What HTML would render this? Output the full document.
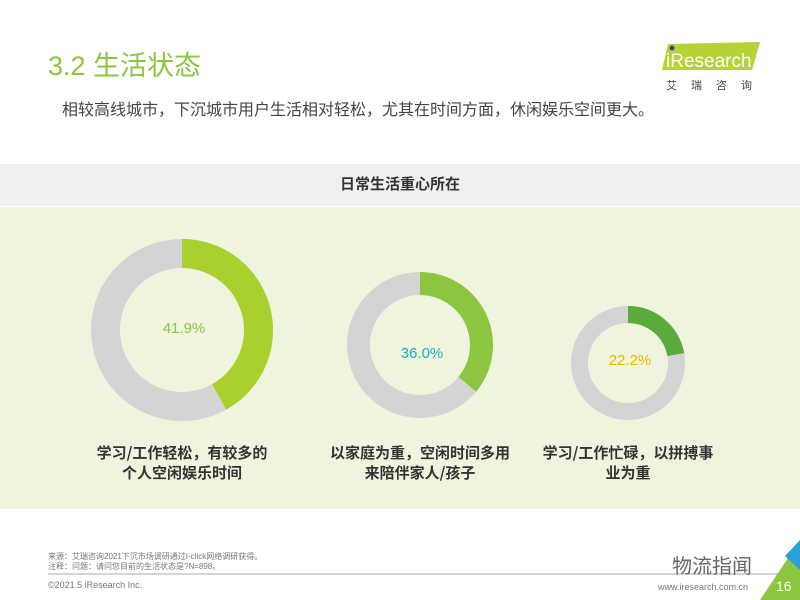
<!DOCTYPE html>
<html><head><meta charset="utf-8"><style>
body{margin:0;width:800px;height:600px;position:relative;background:#fff;font-family:"Liberation Sans","Noto Sans CJK SC",sans-serif;overflow:hidden}
.a{position:absolute;white-space:nowrap}
</style></head><body>
<div class="a" style="left:48px;top:44px;font-size:27px;color:#8cc63f">3.2 生活状态</div>
<div class="a" style="left:62px;top:96px;font-size:16px;color:#444">相较高线城市，下沉城市用户生活相对轻松，尤其在时间方面，休闲娱乐空间更大。</div>
<svg class="a" style="left:648px;top:38px" width="120" height="56">
<polygon points="20,6 112,4 104,32 14,32" fill="#b5d334"/>
<circle cx="24" cy="10" r="2.5" fill="#2a4a8a"/>
<text x="18" y="29" font-size="19" fill="#fff" font-family="Liberation Sans">iResearch</text>
<text x="18" y="51" font-size="11" fill="#444" letter-spacing="14" font-family="Noto Sans CJK SC">艾瑞咨询</text>
</svg>
<div class="a" style="left:0;top:164px;width:800px;height:42px;background:#f0f0f0;text-align:center;line-height:42px;font-size:15px;font-weight:bold;color:#333">日常生活重心所在</div>
<div class="a" style="left:0;top:207px;width:800px;height:302px;background:#eff4de"></div>
<svg class="a" style="left:0;top:0" width="800" height="600">
<g fill="none">
<circle cx="182" cy="330" r="76.5" stroke="#d4d4d4" stroke-width="29"/>
<circle cx="182" cy="330" r="76.5" stroke="#a9d02c" stroke-width="29" stroke-dasharray="201.4 1000" transform="rotate(-90 182 330)"/>
<circle cx="420" cy="345" r="61.5" stroke="#d4d4d4" stroke-width="23"/>
<circle cx="420" cy="345" r="61.5" stroke="#8cc63f" stroke-width="23" stroke-dasharray="139.1 1000" transform="rotate(-90 420 345)"/>
<circle cx="628" cy="363" r="48.5" stroke="#d4d4d4" stroke-width="17"/>
<circle cx="628" cy="363" r="48.5" stroke="#5aab3a" stroke-width="17" stroke-dasharray="67.6 1000" transform="rotate(-90 628 363)"/>
</g>
<g font-size="15" text-anchor="middle" font-family="Liberation Sans">
<text x="184" y="333" fill="#8cc63f">41.9%</text>
<text x="422" y="358" fill="#1aaec8">36.0%</text>
<text x="630" y="365" fill="#efb400">22.2%</text>
</g>
<g font-size="15" font-weight="bold" fill="#333" text-anchor="middle" font-family="Noto Sans CJK SC">
<text x="182" y="458">学习/工作轻松，有较多的</text>
<text x="182" y="478">个人空闲娱乐时间</text>
<text x="420" y="458">以家庭为重，空闲时间多用</text>
<text x="420" y="478">来陪伴家人/孩子</text>
<text x="628" y="458">学习/工作忙碌，以拼搏事</text>
<text x="628" y="478">业为重</text>
</g>
<line x1="48" y1="574" x2="780" y2="574" stroke="#aaa" stroke-width="1"/>
<polygon points="800,540 800,600 760,600" fill="#8cc63f"/>
<polygon points="800,540 800,570 785,556" fill="#2aa0d8"/>
</svg>
<div class="a" style="left:48px;top:552px;font-size:8px;color:#777;line-height:10px">来源：艾瑞咨询2021下沉市场调研通过I-click网络调研获得。<br>注释：问题：请问您目前的生活状态是?N=898。</div>
<div class="a" style="left:48px;top:580px;font-size:9px;color:#777">©2021.5 iResearch Inc.</div>
<div class="a" style="left:672px;top:550px;font-size:20px;color:#666">物流指闻</div>
<div class="a" style="left:658px;top:582px;font-size:9px;color:#777">www.iresearch.com.cn</div>
<div class="a" style="left:776px;top:578px;font-size:14px;color:#fff">16</div>
</body></html>
